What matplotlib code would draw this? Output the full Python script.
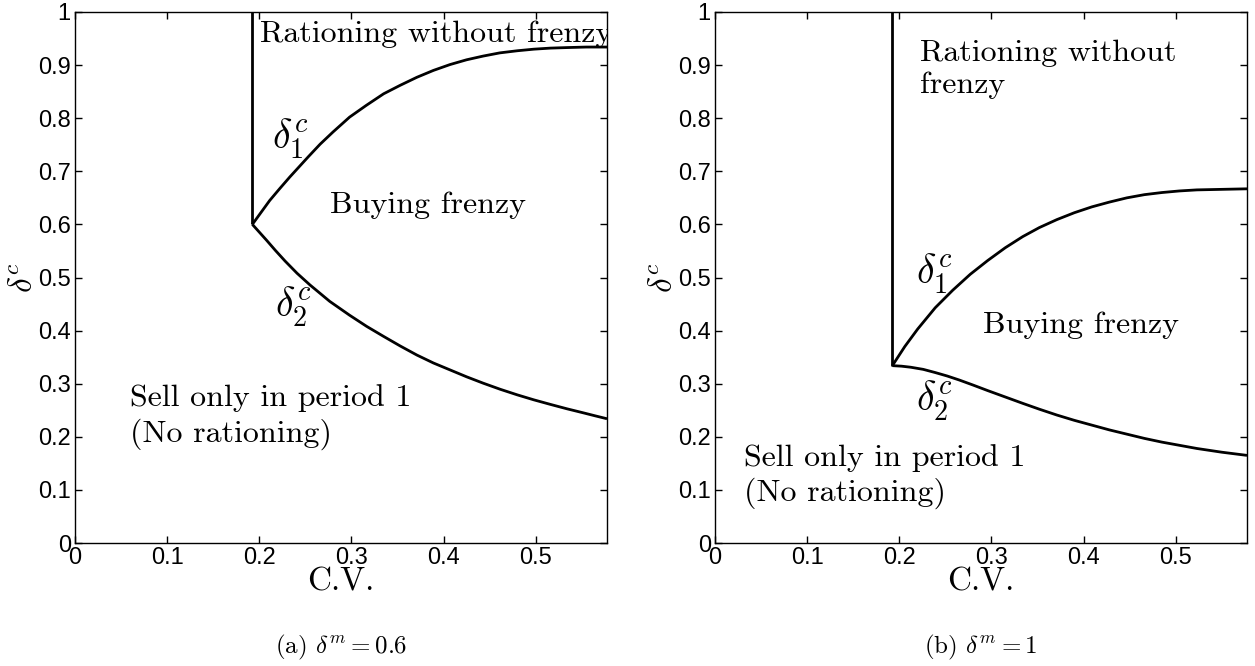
import matplotlib
matplotlib.use("Agg")
import matplotlib.pyplot as plt

plt.rcParams['mathtext.fontset'] = 'cm'
plt.rcParams['axes.unicode_minus'] = False

# ---------------- data ----------------
cv_threshold = 0.1925
cv_max = 0.5774

# panel (a): delta^m = 0.6
a_d1_cv = [0.1925, 0.200, 0.2113, 0.222, 0.233, 0.243, 0.253, 0.266, 0.280, 0.298, 0.316,
           0.335, 0.353, 0.371, 0.389, 0.407, 0.425, 0.443, 0.461, 0.480, 0.498, 0.516,
           0.534, 0.555, 0.5774]
a_d1 = [0.600, 0.618, 0.645, 0.667, 0.689, 0.708, 0.727, 0.751, 0.774, 0.802, 0.824,
        0.846, 0.862, 0.877, 0.890, 0.901, 0.910, 0.917, 0.923, 0.927, 0.930, 0.932,
        0.933, 0.934, 0.934]
a_d2_cv = [0.1925, 0.208, 0.2175, 0.228, 0.241, 0.255, 0.2765, 0.298, 0.3165, 0.335, 0.353,
           0.371, 0.389, 0.407, 0.425, 0.443, 0.4615, 0.480, 0.498, 0.516, 0.534, 0.552,
           0.5645, 0.5774]
a_d2 = [0.600, 0.570, 0.551, 0.531, 0.508, 0.486, 0.455, 0.429, 0.408, 0.389, 0.371,
        0.354, 0.339, 0.326, 0.313, 0.301, 0.2895, 0.279, 0.2696, 0.261, 0.2527, 0.245,
        0.2395, 0.234]
a_vertical_bottom = 0.600

# panel (b): delta^m = 1
b_d1_cv = [0.1925, 0.206, 0.220, 0.239, 0.258, 0.277, 0.296, 0.315, 0.334, 0.352, 0.371,
           0.390, 0.409, 0.428, 0.447, 0.466, 0.485, 0.504, 0.523, 0.550, 0.5774]
b_d1 = [0.334, 0.370, 0.403, 0.443, 0.476, 0.506, 0.532, 0.556, 0.577, 0.594, 0.609,
        0.622, 0.633, 0.642, 0.650, 0.656, 0.660, 0.663, 0.665, 0.666, 0.667]
b_d2_cv = [0.1925, 0.2025, 0.2125, 0.226, 0.239, 0.252, 0.265, 0.280, 0.296, 0.315, 0.334,
           0.352, 0.371, 0.390, 0.409, 0.428, 0.447, 0.466, 0.485, 0.504, 0.523, 0.550, 0.5774]
b_d2 = [0.334, 0.333, 0.331, 0.327, 0.321, 0.3145, 0.307, 0.2975, 0.287, 0.275, 0.263,
        0.252, 0.241, 0.231, 0.222, 0.213, 0.205, 0.197, 0.190, 0.184, 0.178, 0.171, 0.165]
b_vertical_bottom = 0.334

x_ticks = [0, 0.1, 0.2, 0.3, 0.4, 0.5]
x_ticklabels = ['0', '0.1', '0.2', '0.3', '0.4', '0.5']
y_ticks = [0, 0.1, 0.2, 0.3, 0.4, 0.5, 0.6, 0.7, 0.8, 0.9, 1.0]
y_ticklabels = ['0', '0.1', '0.2', '0.3', '0.4', '0.5', '0.6', '0.7', '0.8', '0.9', '1']

captions = [r'(a) $\delta^m = 0.6$', r'(b) $\delta^m = 1$']

# ---------------- figure ----------------
W, H = 1255, 666
fig = plt.figure(figsize=(W / 100, H / 100), dpi=100)

def ax_rect(x0, x1, y0, y1):
    return [x0 / W, 1 - y1 / H, (x1 - x0) / W, (y1 - y0) / H]

axA = fig.add_axes(ax_rect(75, 607, 12, 543))
axB = fig.add_axes(ax_rect(715, 1247, 12, 543))

SERIF = 'cmr10'
TICKFONT = 'Liberation Sans'
lw = 2.0
LBL = 23      # region labels
DLBL = 29     # delta labels

def style(ax, caption):
    ax.set_xlim(0, cv_max)
    ax.set_ylim(0, 1)
    ax.set_xticks(x_ticks)
    ax.set_xticklabels(x_ticklabels, fontfamily=TICKFONT, fontsize=17)
    ax.set_yticks(y_ticks)
    ax.set_yticklabels(y_ticklabels, fontfamily=TICKFONT, fontsize=17)
    ax.tick_params(direction='in', top=True, right=True, length=5, width=1, pad=3)
    for s in ax.spines.values():
        s.set_linewidth(1.0)
    ax.set_xlabel('C.V.', fontfamily=SERIF, fontsize=24, labelpad=-1)
    ax.set_ylabel(r'$\delta^c$', fontsize=24, labelpad=-1)
    ax.text(0.5, -0.196, caption, transform=ax.transAxes, ha='center', va='center',
            fontfamily=SERIF, fontsize=18)

def curve(ax, x, y):
    ax.plot(x, y, color='black', lw=lw, solid_joinstyle='round', solid_capstyle='butt')

# panel (a)
curve(axA, [cv_threshold, cv_threshold], [a_vertical_bottom, 1.0])
curve(axA, a_d1_cv, a_d1)
curve(axA, a_d2_cv, a_d2)
style(axA, captions[0])
axA.text(0.201, 0.958, 'Rationing without frenzy', fontfamily=SERIF, fontsize=LBL,
         ha='left', va='center', clip_on=True)
axA.text(0.234, 0.762, r'$\delta_1^c$', fontsize=DLBL, ha='center', va='center')
axA.text(0.237, 0.444, r'$\delta_2^c$', fontsize=DLBL, ha='center', va='center')
axA.text(0.277, 0.636, 'Buying frenzy', fontfamily=SERIF, fontsize=LBL, ha='left', va='center')
axA.text(0.060, 0.237, 'Sell only in period 1\n(No rationing)', fontfamily=SERIF, fontsize=LBL,
         ha='left', va='center', linespacing=1.25)

# panel (b)
curve(axB, [cv_threshold, cv_threshold], [b_vertical_bottom, 1.0])
curve(axB, b_d1_cv, b_d1)
curve(axB, b_d2_cv, b_d2)
style(axB, captions[1])
axB.text(0.222, 0.892, 'Rationing without\nfrenzy', fontfamily=SERIF, fontsize=LBL,
         ha='left', va='center', linespacing=1.2)
axB.text(0.238, 0.506, r'$\delta_1^c$', fontsize=DLBL, ha='center', va='center')
axB.text(0.238, 0.267, r'$\delta_2^c$', fontsize=DLBL, ha='center', va='center')
axB.text(0.291, 0.411, 'Buying frenzy', fontfamily=SERIF, fontsize=LBL, ha='left', va='center')
axB.text(0.032, 0.125, 'Sell only in period 1\n(No rationing)', fontfamily=SERIF, fontsize=LBL,
         ha='left', va='center', linespacing=1.25)

fig.savefig('out.png', dpi=100)
